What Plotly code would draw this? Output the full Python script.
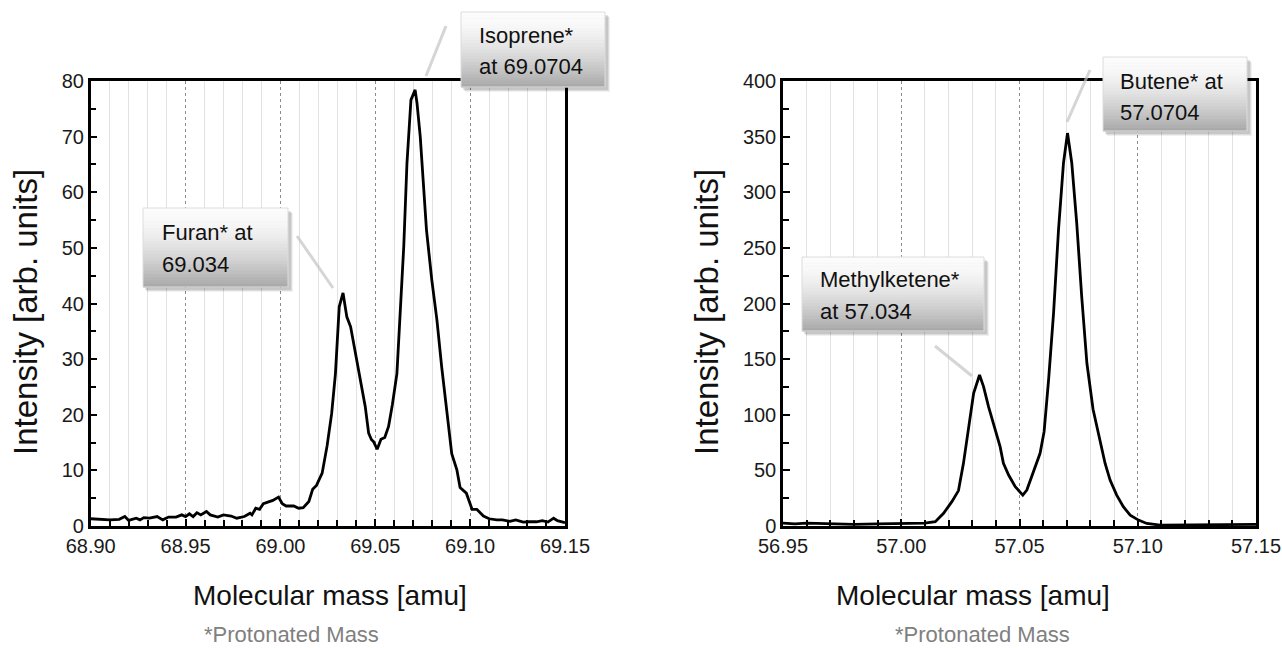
import plotly.graph_objects as go

# ---------------- data ----------------
left_mass = [68.900, 68.905, 68.910, 68.915, 68.918, 68.920, 68.924, 68.926, 68.928, 68.931,
             68.935, 68.938, 68.941, 68.945, 68.948, 68.950, 68.952, 68.954, 68.956, 68.958,
             68.961, 68.963, 68.967, 68.970, 68.974, 68.977, 68.981, 68.984, 68.985, 68.987,
             68.989, 68.991, 68.993, 68.996, 68.999, 69.001, 69.003, 69.007, 69.0096, 69.012,
             69.015, 69.017, 69.019, 69.022, 69.0246, 69.027, 69.029, 69.031, 69.033, 69.035,
             69.037, 69.0395, 69.042, 69.0447, 69.0465, 69.048, 69.049, 69.051, 69.053, 69.055,
             69.057, 69.059, 69.0614, 69.063, 69.065, 69.0667, 69.0688, 69.071, 69.072, 69.0737,
             69.0754, 69.077, 69.0798, 69.0825, 69.085, 69.0877, 69.0903, 69.093, 69.0947, 69.098,
             69.101, 69.1035, 69.107, 69.110, 69.114, 69.117, 69.121, 69.124, 69.128, 69.131,
             69.135, 69.138, 69.141, 69.144, 69.146, 69.150]
left_intensity = [1.3, 1.2, 1.1, 1.2, 1.7, 1.0, 1.4, 1.1, 1.5, 1.4,
                  1.7, 1.1, 1.6, 1.6, 2.0, 1.7, 2.2, 1.7, 2.4, 2.0,
                  2.6, 2.0, 1.6, 2.0, 1.8, 1.4, 1.7, 2.3, 2.0, 3.2,
                  3.0, 4.0, 4.2, 4.6, 5.2, 4.0, 3.6, 3.6, 3.2, 3.3,
                  4.4, 6.6, 7.3, 9.5, 14.4, 20.2, 27.4, 39.4, 41.9, 37.6,
                  35.8, 31.0, 26.9, 21.5, 16.7, 15.5, 15.2, 13.8, 15.6, 15.9,
                  17.9, 21.8, 27.4, 38.3, 50.2, 65.2, 76.6, 78.4, 76.0, 70.0,
                  62.2, 53.2, 44.2, 37.0, 28.6, 20.2, 13.0, 10.1, 6.9, 5.9,
                  3.0, 3.0, 1.8, 1.3, 1.1, 1.1, 0.84, 1.1, 0.7, 0.76,
                  0.76, 0.96, 0.7, 1.4, 0.96, 0.6]

right_mass = [56.950, 56.955, 56.960, 56.970, 56.980, 56.990, 57.000, 57.005, 57.010, 57.0144,
              57.0179, 57.0214, 57.0242, 57.0263, 57.0285, 57.0306, 57.0331, 57.0348, 57.0369, 57.0397,
              57.0418, 57.0432, 57.0454, 57.0482, 57.0514, 57.0531, 57.0559, 57.0587, 57.0604, 57.0623,
              57.0644, 57.0665, 57.0686, 57.0703, 57.0721, 57.0742, 57.0763, 57.0785, 57.0811, 57.0840,
              57.0862, 57.0883, 57.0911, 57.0939, 57.0968, 57.1003, 57.1038, 57.1095, 57.120, 57.130,
              57.140, 57.150]
right_intensity = [2.5, 2.0, 2.5, 2.0, 1.5, 2.0, 2.0, 2.0, 2.5, 3.9,
                   11.4, 21.9, 31.8, 56.3, 89.3, 119.3, 135.7, 125.3, 107.3, 87.8,
                   71.3, 56.3, 45.8, 35.3, 27.8, 32.3, 48.8, 65.3, 84.8, 131.3,
                   191.3, 266.3, 326.3, 353.2, 326.3, 272.3, 206.3, 146.3, 105.0, 77.3,
                   56.2, 41.3, 27.8, 17.3, 9.8, 5.3, 2.3, 0.8, 1.0, 1.5,
                   1.2, 1.5]

left_labels = ["Furan* at", "69.034", "Isoprene*", "at 69.0704"]
right_labels = ["Methylketene*", "at 57.034", "Butene* at", "57.0704"]
x_title = "Molecular mass [amu]"
y_title = "Intensity [arb. units]"
footnote = "*Protonated Mass"

# ---------------- figure ----------------
W, H = 1282, 648
FONT = "Arial, 'Liberation Sans', sans-serif"


def px(x):
    return x / W


def py(y):
    return 1 - y / H


fig = go.Figure()
fig.add_trace(go.Scatter(x=left_mass, y=left_intensity, mode="lines",
                         line=dict(color="black", width=2.8), xaxis="x", yaxis="y",
                         showlegend=False))
fig.add_trace(go.Scatter(x=right_mass, y=right_intensity, mode="lines",
                         line=dict(color="black", width=2.8), xaxis="x2", yaxis="y2",
                         showlegend=False))


def xaxis_cfg(lo, hi, dom):
    return dict(
        domain=dom, range=[lo, hi], tick0=lo, dtick=0.05, tickformat=".2f",
        showgrid=True, gridcolor="#8c8c8c", griddash="3px,3px", gridwidth=1,
        ticks="inside", ticklen=7, tickwidth=2, tickcolor="black",
        showline=True, linecolor="black", linewidth=2.5, mirror=True,
        zeroline=False, automargin=False,
        tickfont=dict(family=FONT, size=20, color="#1a1a1a"),
        minor=dict(tick0=lo, dtick=0.01, showgrid=True, gridcolor="#e2e2e2", gridwidth=1,
                   griddash="solid",
                   ticks="inside", ticklen=6, tickwidth=2, tickcolor="black"),
        fixedrange=True,
    )


def yaxis_cfg(hi, dt, anchor):
    return dict(
        domain=[py(526), py(81)], range=[0, hi], dtick=dt, anchor=anchor,
        showgrid=False, zeroline=False, automargin=False,
        ticks="inside", ticklen=7, tickwidth=2, tickcolor="black",
        showline=True, linecolor="black", linewidth=2.5, mirror=True,
        tickfont=dict(family=FONT, size=20, color="#1a1a1a"),
        minor=dict(dtick=dt / 2, ticks="inside", ticklen=6, tickwidth=2, tickcolor="black"),
        fixedrange=True,
    )


fig.update_layout(
    width=W, height=H, margin=dict(l=0, r=0, t=0, b=0, autoexpand=False),
    paper_bgcolor="white", plot_bgcolor="white",
    xaxis=dict(xaxis_cfg(68.90, 69.15, [px(90.7), px(565)]), anchor="y"),
    yaxis=yaxis_cfg(80, 10, "x"),
    xaxis2=dict(xaxis_cfg(56.95, 57.15, [px(783), px(1256)]), anchor="y2"),
    yaxis2=yaxis_cfg(400, 50, "x2"),
    font=dict(family=FONT),
)

shapes = []
annotations = []

# leader lines (light gray)
for (x0, y0, x1, y1) in [(297, 236, 333, 288), (446, 26, 426, 76),
                         (935, 346, 972, 376), (1090, 70, 1067, 122)]:
    shapes.append(dict(type="line", xref="paper", yref="paper",
                       x0=px(x0), y0=py(y0), x1=px(x1), y1=py(y1),
                       line=dict(color="rgba(195,195,195,0.7)", width=3), layer="above"))


def lerp(c0, c1, t):
    return tuple(int(round(a + (b - a) * t)) for a, b in zip(c0, c1))


def add_box(x0, y0, x1, y1):
    # soft shadow
    for off, alpha in [(5, 0.06), (4, 0.08), (3, 0.10)]:
        shapes.append(dict(type="rect", xref="paper", yref="paper",
                           x0=px(x0 + off - 1), x1=px(x1 + off), y0=py(y0 + off), y1=py(y1 + off),
                           fillcolor=f"rgba(0,0,0,{alpha})", line=dict(width=0), layer="above"))
    n = 24
    top, bot = (252, 252, 252), (170, 170, 170)
    for i in range(n):
        t = i / (n - 1)
        c = lerp(top, bot, t ** 1.6)
        ya = y0 + (y1 - y0) * i / n
        yb = y0 + (y1 - y0) * (i + 1) / n
        shapes.append(dict(type="rect", xref="paper", yref="paper",
                           x0=px(x0), x1=px(x1), y0=py(ya), y1=py(yb + 0.6),
                           fillcolor=f"rgb{c}", line=dict(width=0), layer="above"))
    shapes.append(dict(type="rect", xref="paper", yref="paper",
                       x0=px(x0), x1=px(x1), y0=py(y0), y1=py(y1),
                       fillcolor="rgba(0,0,0,0)", line=dict(color="#dcdcdc", width=1), layer="above"))


def add_text(txt, x, y, size=22):
    annotations.append(dict(text=txt, xref="paper", yref="paper", x=px(x), y=py(y),
                            xanchor="left", yanchor="middle", showarrow=False,
                            font=dict(family=FONT, size=size, color="#111")))


boxes = [
    ((143, 208, 288, 287), left_labels[0], left_labels[1], 160, 233, 265),
    ((461, 12, 605, 87), left_labels[2], left_labels[3], 477, 35, 66),
    ((802, 257, 984, 331), right_labels[0], right_labels[1], 818, 280, 311),
    ((1103, 57, 1247, 131), right_labels[2], right_labels[3], 1118, 81, 112),
]
for (b, l1, l2, tx, ty1, ty2) in boxes:
    add_box(*b)
    add_text(l1, tx, ty1)
    add_text(l2, tx, ty2)

# axis titles & footnotes
for cx in (330, 973):
    annotations.append(dict(text=x_title, xref="paper", yref="paper", x=px(cx), y=py(595),
                            xanchor="center", yanchor="middle", showarrow=False,
                            font=dict(family=FONT, size=28, color="#111")))
for cx in (291, 982):
    annotations.append(dict(text=footnote, xref="paper", yref="paper", x=px(cx), y=py(634),
                            xanchor="center", yanchor="middle", showarrow=False,
                            font=dict(family=FONT, size=22, color="#808080")))
for cx in (26, 707):
    annotations.append(dict(text=y_title, xref="paper", yref="paper", x=px(cx), y=py(312),
                            xanchor="center", yanchor="middle", showarrow=False, textangle=-90,
                            font=dict(family=FONT, size=33, color="#111")))

fig.update_layout(shapes=shapes, annotations=annotations)

fig.write_html("out.html", config={"displayModeBar": False},
               post_script="document.body.style.margin='0';")
